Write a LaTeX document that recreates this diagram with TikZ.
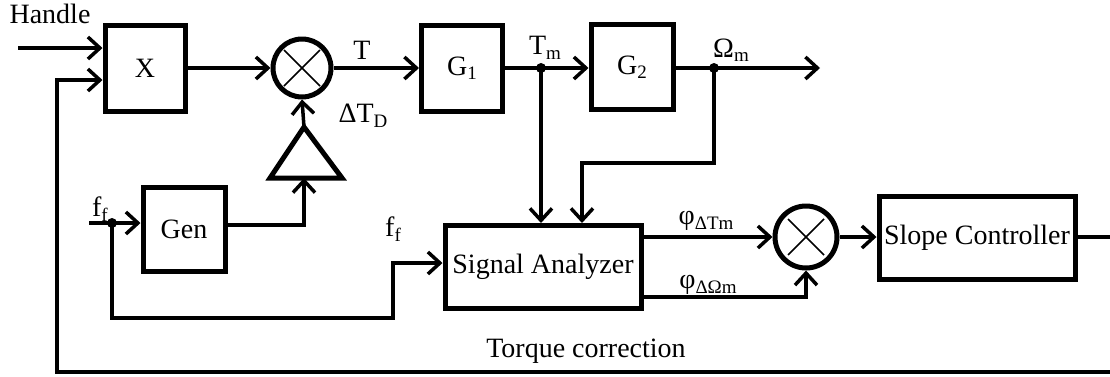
\documentclass[tikz,border=0pt]{standalone}
\usepackage{fontspec}
\setmainfont{Liberation Serif}
\usetikzlibrary{arrows.meta}
\newcommand{\sbs}[1]{\raisebox{-0.35ex}{\fontsize{19}{19}\selectfont #1}}
\begin{document}
\begin{tikzpicture}[x=1pt, y=-1pt, >={Straight Barb[length=12pt,width=22pt]},
    font=\fontsize{28}{32}\selectfont,
    blk/.style={draw, line width=5pt, inner sep=0pt},
    sig/.style={line width=3.5pt},
    sumc/.style={draw, circle, line width=5pt, inner sep=0pt, minimum size=58pt,
        path picture={\draw[line width=1.6pt] (path picture bounding box.center) ++(-18pt,-18pt) -- ++(36pt,36pt);
                      \draw[line width=1.6pt] (path picture bounding box.center) ++(-18pt,18pt) -- ++(36pt,-36pt);}}]
    \useasboundingbox (0,0) rectangle (1110,376);
    % blocks
    \node[blk, minimum width=80pt, minimum height=86pt] (mulx) at (145,68) {X};
    \node[sumc] (sum1) at (302,68) {};
    \node[blk, minimum width=81pt, minimum height=86pt] (gone) at (462,68) {G\sbs{1}};
    \node[blk, minimum width=82pt, minimum height=85pt] (gtwo) at (632,67) {G\sbs{2}};
    \node[blk, minimum width=82pt, minimum height=84pt] (gen) at (184,229) {Gen};
    \node[blk, minimum width=196pt, minimum height=83pt] (sigan) at (543,267) {Signal Analyzer};
    \node[sumc, minimum size=62pt] (sum2) at (806,237) {};
    \node[blk, minimum width=196pt, minimum height=83pt, text depth=6pt] (slope) at (977,238) {Slope Controller};
    % amplifier
    \coordinate (ampin) at (304,178);
    \coordinate (ampout) at (304,127);
    \draw[line width=5pt, line join=miter] (270,178) -- (342,178) -- (ampout) -- cycle;
    % junctions
    \coordinate (jtm) at (541,68);
    \coordinate (jom) at (714,68);
    \coordinate (jff) at (112,223);
    \foreach \j in {jtm,jom,jff} \fill (\j) circle (5pt);
    % forward path
    \coordinate (hdl) at (18,48);
    \draw[sig,->] (hdl) -- (hdl -| mulx.west);
    \draw[sig,->] (mulx.east) -- (sum1.west);
    \draw[sig,->] (sum1.east) -- (gone.west);
    \draw[sig,->] (gone.east) -- (gone.east -| gtwo.west);
    \coordinate (yout) at (820,68);
    \draw[sig,->] (gtwo.east |- yout) -- (yout);
    \draw[sig,->] (ampout) -- (sum1.south);
    % generator
    \coordinate (fin) at (89,223);
    \draw[sig,->] (fin) -- (fin -| gen.west);
    \draw[sig,->] (gen.east |- 0,225) -| (ampin);
    \draw[sig,->] (jff) |- (393,318) |- (sigan.west |- 0,263);
    % measurements to analyzer
    \draw[sig,->] (jtm) -- (jtm |- sigan.north);
    \draw[sig,->] (jom) |- (582,163) -- (582,0 |- sigan.north);
    % phases
    \draw[sig,->] (sigan.east |- sum2.west) -- (sum2.west);
    \draw[sig,->] (sigan.east |- 0,297) -| (sum2.south);
    \draw[sig,->] (sum2.east) -- (slope.west |- sum2.east);
    % torque correction loop
    \draw[sig,->] (slope.east |- 0,237) -- (1114,237) |- (57,372) |- (mulx.west |- 0,80);
    % labels
    \node (lhdl) at (50,14) {Handle};
    \node (lt) at (362,50) {T};
    \node (ltm) at (545,48) {T\sbs{m}};
    \node (lom) at (731,50) {Ω\sbs{m}};
    \node (ltd) at (363,116) {ΔT\sbs{D}};
    \node (lff) at (100,209) {f\sbs{f}};
    \node (lffb) at (393,229) {f\sbs{f}};
    \node (lpt) at (706,221) {φ\sbs{ΔTm}};
    \node (lpo) at (708,285) {φ\sbs{ΔΩm}};
    \node (ltq) at (586,351) {Torque correction};
\end{tikzpicture}
\end{document}
